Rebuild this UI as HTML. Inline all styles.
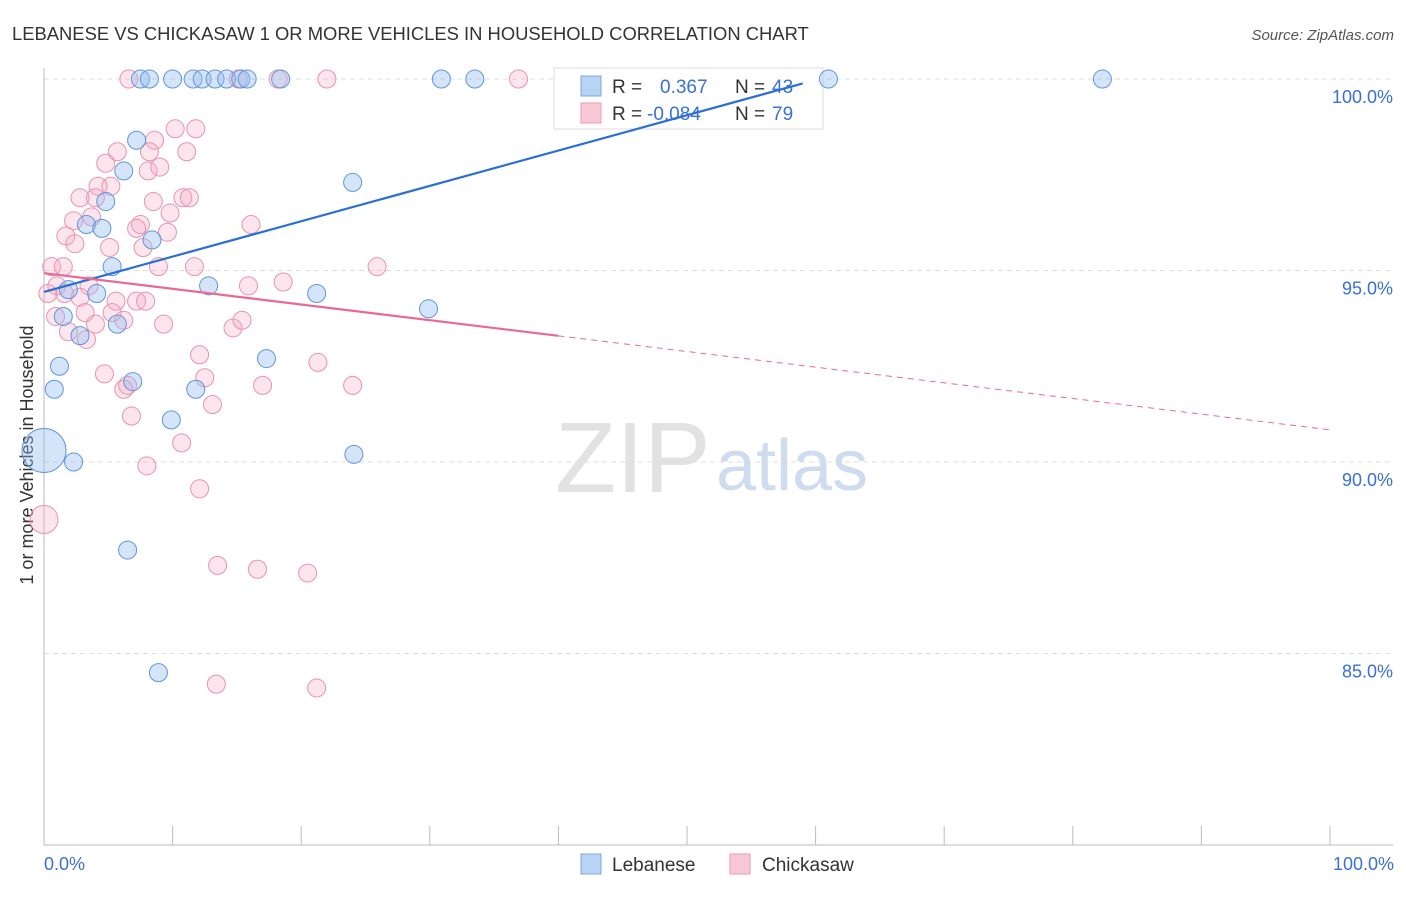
<!DOCTYPE html>
<html><head><meta charset="utf-8"><style>
body{margin:0;background:#fff;font-family:"Liberation Sans",sans-serif}
svg text{font-family:"Liberation Sans",sans-serif}
</style></head><body>
<svg id="c" width="1406" height="892">
<text x="12" y="40" font-size="18.4" fill="#333">LEBANESE VS CHICKASAW 1 OR MORE VEHICLES IN HOUSEHOLD CORRELATION CHART</text>
<text x="1394" y="40" font-size="15" fill="#555" font-style="italic" text-anchor="end">Source: ZipAtlas.com</text>
<text transform="translate(33,455) rotate(-90)" font-size="18" fill="#333" text-anchor="middle">1 or more Vehicles in Household</text>
<text x="555" y="492" font-size="100" fill="#e2e2e2" font-family="Liberation Serif">ZIP</text>
<text x="716" y="490" font-size="72" fill="#cfdcf0">atlas</text>
<g id="grid"></g>
<g>
<rect x="554" y="68" width="269" height="61" fill="#fff" stroke="#ddd"/>
<rect x="581" y="76" width="20" height="20" fill="#b8d3f3" stroke="#7aa7e3"/>
<rect x="581" y="103" width="20" height="20" fill="#f9c8d6" stroke="#ec9ab3"/>
<text x="612" y="93" font-size="19" fill="#333">R =</text><text x="660" y="93" font-size="19" fill="#3a6fd5">0.367</text>
<text x="735" y="93" font-size="19" fill="#333">N =</text><text x="772" y="93" font-size="19" fill="#3a6fd5">43</text>
<text x="612" y="120" font-size="19" fill="#333">R =</text><text x="647" y="120" font-size="19" fill="#3a6fd5">-0.084</text>
<text x="735" y="120" font-size="19" fill="#333">N =</text><text x="772" y="120" font-size="19" fill="#3a6fd5">79</text>
</g>
<g id="pts"></g><g id="lines"></g>
<g>
<rect x="581" y="854" width="20" height="20" fill="#b8d3f3" stroke="#7aa7e3"/>
<text x="612" y="871" font-size="19" fill="#333">Lebanese</text>
<rect x="730" y="854" width="20" height="20" fill="#f9c8d6" stroke="#ec9ab3"/>
<text x="762" y="871" font-size="19" fill="#333">Chickasaw</text>
</g>
<text x="44" y="870" font-size="18" fill="#3a6fd5">0.0%</text>
<text x="1394" y="870" font-size="18" fill="#3a6fd5" text-anchor="end">100.0%</text>
</svg>
<script>
const yTicks=[100,95,90,85];
const yTickLabels=["100.0%","95.0%","90.0%","85.0%"];
const blueX=[7.5,8.2,10.0,11.6,12.3,13.3,14.2,15.3,15.8,18.4,30.9,33.5,61.0,82.3,7.2,6.2,24.0,4.8,3.3,4.5,8.4,5.3,12.8,4.1,1.9,21.2,29.9,1.5,5.7,2.8,17.3,1.2,6.9,0.8,11.8,9.9,0,2.3,24.1,6.5,8.9];
const blueY=[100,100,100,100,100,100,100,100,100,100,100,100,100,100,98.4,97.6,97.3,96.8,96.2,96.1,95.8,95.1,94.6,94.4,94.5,94.4,94.0,93.8,93.6,93.3,92.7,92.5,92.1,91.9,91.9,91.1,90.3,90.0,90.2,87.7,84.5];
const blueR=[9,9,9,9,9,9,9,9,9,9,9,9,9,9,9,9,9,9,9,9,9,9,9,9,9,9,9,9,9,9,9,9,9,9,9,9,22,9,9,9,9];
const pinkX=[6.6,15.1,18.2,22.0,36.9,10.2,11.8,8.6,5.7,8.2,11.1,4.8,8.1,9.0,5.2,4.2,4.0,2.8,8.5,10.8,11.3,3.7,2.3,9.8,7.5,7.2,9.6,16.1,1.7,2.4,5.1,7.7,0.6,1.5,8.9,11.7,25.9,3.5,1.0,1.6,0.3,15.9,18.6,2.8,5.6,7.2,7.9,3.2,5.3,0.9,4.0,6.2,9.3,14.7,15.4,1.9,3.3,12.1,4.7,21.3,12.5,6.5,17.0,24.0,6.2,13.1,6.8,10.7,8.0,12.1,0,13.5,16.6,20.5,13.4,21.2];
const pinkY=[100,100,100,100,100,98.7,98.7,98.4,98.1,98.1,98.1,97.8,97.6,97.7,97.2,97.2,96.9,96.9,96.8,96.9,96.9,96.4,96.3,96.5,96.2,96.1,96.0,96.2,95.9,95.7,95.6,95.6,95.1,95.1,95.1,95.1,95.1,94.6,94.6,94.4,94.4,94.6,94.7,94.3,94.2,94.2,94.2,93.9,93.9,93.8,93.6,93.7,93.6,93.5,93.7,93.4,93.2,92.8,92.3,92.6,92.2,92.0,92.0,92.0,91.9,91.5,91.2,90.5,89.9,89.3,88.5,87.3,87.2,87.1,84.2,84.1];
const pinkR=pinkX.map((v,i)=>i===70?14:9);
const blueTrend=[94.44,103.67], pinkTrend=[94.93,90.84];
const NS="http://www.w3.org/2000/svg";
const X=v=>44+v*12.86, Y=v=>79+(100-v)*38.3;
function mk(t,a,p){const e=document.createElementNS(NS,t);for(const k in a)e.setAttribute(k,a[k]);p.appendChild(e);return e;}
const grid=document.getElementById('grid');
yTicks.forEach((t,i)=>{
 const l=mk('line',{x1:44,x2:1393,y1:Y(t),y2:Y(t),stroke:'#ddd','stroke-dasharray':'5,4'},grid);
 
 
 const tx=mk('text',{x:1393,y:Y(t)+24,'font-size':18,fill:'#3a6fd5','text-anchor':'end'},grid);
 tx.textContent=yTickLabels[i];
 
 
});
let ax=mk('line',{x1:44,x2:44,y1:68,y2:845,stroke:'#bbb'},grid);


ax=mk('line',{x1:44,x2:1393,y1:845,y2:845,stroke:'#bbb'},grid);


for(let i=0;i<=10;i++){const t=mk('line',{x1:X(i*10),x2:X(i*10),y1:826,y2:845,stroke:'#bbb'},grid);
 
 }
const pts=document.getElementById('pts');
pinkX.forEach((v,i)=>{const c=mk('circle',{cx:X(v),cy:Y(pinkY[i]),r:pinkR[i],fill:'rgba(246,170,195,0.3)',stroke:'#ea92ae','stroke-width':1},pts);
 
 });
blueX.forEach((v,i)=>{const c=mk('circle',{cx:X(v),cy:Y(blueY[i]),r:blueR[i],fill:'rgba(150,190,240,0.4)',stroke:'#5f95de','stroke-width':1},pts);
 
 });
const ln=document.getElementById('lines');
const by=x=>blueTrend[0]+(blueTrend[1]-blueTrend[0])*x/100, py=x=>pinkTrend[0]+(pinkTrend[1]-pinkTrend[0])*x/100;
let t=mk('line',{x1:X(0),y1:Y(by(0)),x2:X(59),y2:Y(by(59)),stroke:'#2a6fd6','stroke-width':2.2},ln);


t=mk('line',{x1:X(0),y1:Y(py(0)),x2:X(40),y2:Y(py(40)),stroke:'#e86a94','stroke-width':2.2},ln);


t=mk('line',{x1:X(40),y1:Y(py(40)),x2:X(100),y2:Y(py(100)),stroke:'#e86a94','stroke-width':1,'stroke-dasharray':'6,5'},ln);


</script>
</body></html>
